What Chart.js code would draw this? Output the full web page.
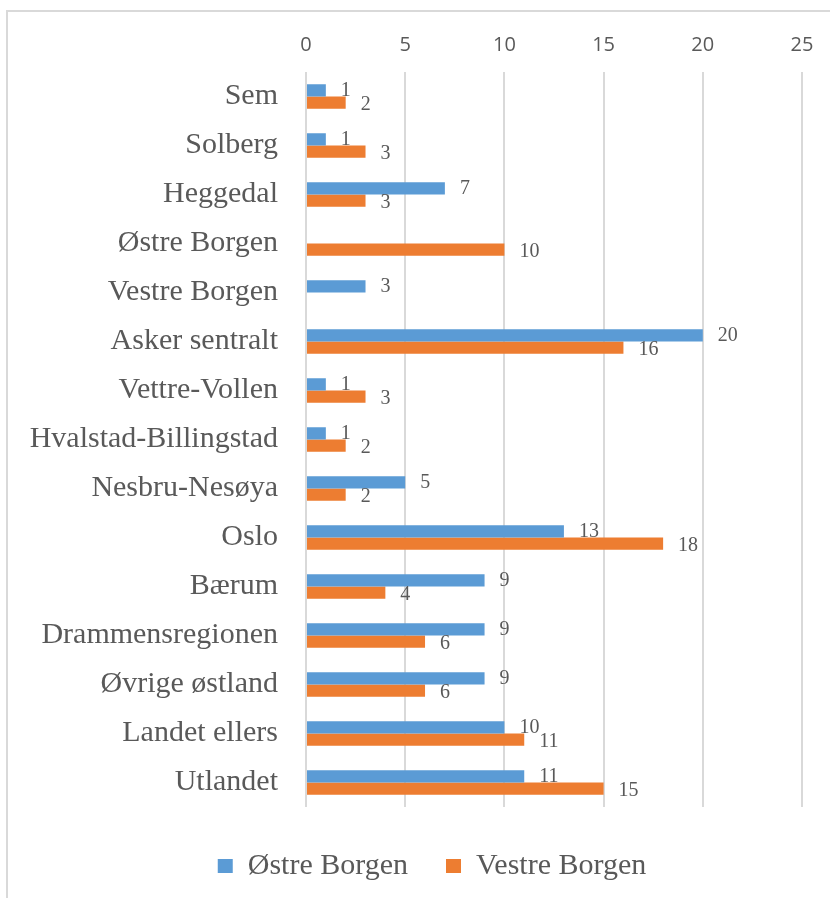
<!DOCTYPE html>
<html>
<head>
<meta charset="utf-8">
<script src="https://cdn.jsdelivr.net/npm/chart.js@4"></script>
<style>
  html, body { margin: 0; padding: 0; background: #fff; }
  #wrap { position: relative; width: 830px; height: 898px; overflow: hidden; }
  #frame { position: absolute; left: 6px; top: 10px; width: 900px; height: 900px;
           border: 2px solid #d9d9d9; box-sizing: border-box; pointer-events: none; }
  canvas { position: absolute; left: 0; top: 0; }
</style>
</head>
<body>
<div id="wrap">
  <canvas id="chart" width="830" height="898"></canvas>
  <div id="frame"></div>
</div>
<script>
const categories = [
    'Sem', 'Solberg', 'Heggedal', 'Østre Borgen', 'Vestre Borgen',
    'Asker sentralt', 'Vettre-Vollen', 'Hvalstad-Billingstad', 'Nesbru-Nesøya',
    'Oslo', 'Bærum', 'Drammensregionen', 'Øvrige østland', 'Landet ellers', 'Utlandet'
];
const ostreBorgen  = [1, 1, 7, 0, 3, 20, 1, 1, 5, 13, 9, 9, 9, 10, 11];
const vestreBorgen = [2, 3, 3, 10, 0, 16, 3, 2, 2, 18, 4, 6, 6, 11, 15];
const seriesNames = ['Østre Borgen', 'Vestre Borgen'];
const xTicks = [0, 5, 10, 15, 20, 25];

const textColor = '#595959';
const serif = '"Liberation Serif", "DejaVu Serif", serif';

// value labels to the right of each bar, zeros are left out
const barLabels = {
    id: 'barLabels',
    afterDatasetsDraw(chart) {
        const ctx = chart.ctx;
        ctx.save();
        ctx.font = '20px ' + serif;
        ctx.fillStyle = textColor;
        ctx.textAlign = 'left';
        ctx.textBaseline = 'middle';
        chart.data.datasets.forEach((ds, i) => {
            const meta = chart.getDatasetMeta(i);
            meta.data.forEach((bar, j) => {
                const v = ds.data[j];
                if (!v) return;
                const dy = i === 0 ? 0 : 2;
                ctx.fillText(String(v), bar.x + 15, bar.y + dy);
            });
        });
        ctx.restore();
    }
};

// nudge the legend so it sits centred under the frame rather than the canvas
const legendShift = {
    id: 'legendShift',
    afterLayout(chart) {
        if (!chart.legend) return;
        chart.legend.left += 31;
        chart.legend.right += 31;
    }
};

new Chart(document.getElementById('chart'), {
    type: 'bar',
    data: {
        labels: categories,
        datasets: [
            { label: seriesNames[0], data: ostreBorgen, backgroundColor: '#5b9bd5' },
            { label: seriesNames[1], data: vestreBorgen, backgroundColor: '#ed7d31' }
        ]
    },
    options: {
        indexAxis: 'y',
        responsive: false,
        animation: false,
        categoryPercentage: 0.5,
        barPercentage: 1.0,
        layout: { padding: { left: 0, right: 28, top: 0, bottom: 7 } },
        scales: {
            x: {
                position: 'top',
                min: 0,
                max: 25,
                afterBuildTicks: s => { s.ticks = xTicks.map(v => ({ value: v })); },
                afterFit: s => { s.height = 72; },
                grid: { color: '#d9d9d9', lineWidth: 2, drawTicks: false },
                border: { display: false },
                ticks: {
                    padding: 15,
                    color: textColor,
                    font: { family: '"Open Sans", "Liberation Sans", sans-serif', size: 20 }
                }
            },
            gap: {
                type: 'linear',
                axis: 'x',
                position: 'bottom',
                min: 0,
                max: 25,
                afterFit: s => { s.height = 6; },
                grid: { display: false },
                border: { display: false },
                ticks: { display: false }
            },
            y: {
                afterFit: s => { s.width = 306; },
                grid: { display: false },
                border: { display: false },
                ticks: {
                    padding: 20,
                    color: textColor,
                    font: { family: serif, size: 30 }
                }
            }
        },
        plugins: {
            legend: {
                position: 'bottom',
                labels: {
                    boxWidth: 15,
                    boxHeight: 14,
                    padding: 38,
                    color: textColor,
                    font: { family: serif, size: 30 }
                }
            },
            tooltip: { enabled: false }
        }
    },
    plugins: [barLabels, legendShift]
});
</script>
</body>
</html>
